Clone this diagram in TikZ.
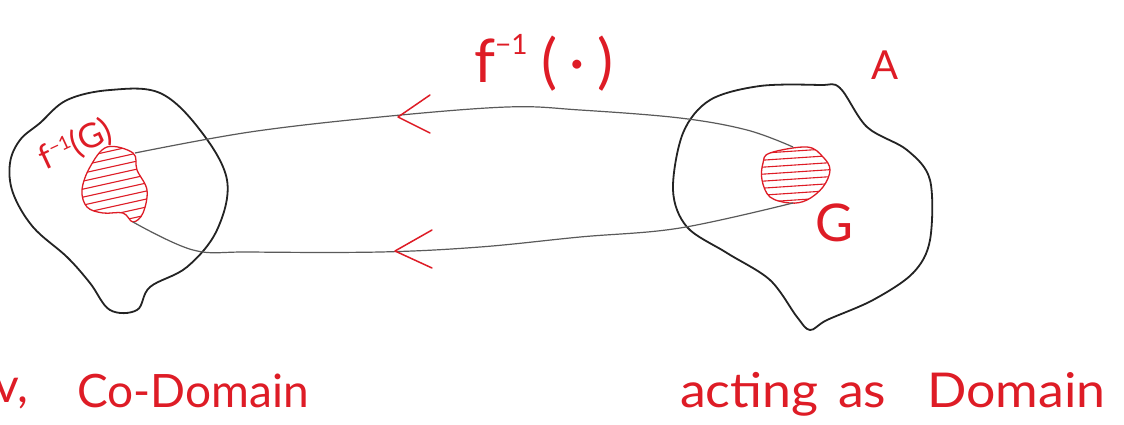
\documentclass[tikz,border=0pt]{standalone}
\usepackage{fontspec}
\setmainfont{Lato}
\definecolor{ink}{RGB}{222,28,38}
\definecolor{pencil}{RGB}{35,35,35}
\definecolor{thread}{RGB}{90,90,90}
\tikzset{
  blob/.style={draw=pencil, line width=1.8pt, line join=round},
  hatchline/.style={draw=ink, line width=1.1pt},
  rim/.style={draw=ink, line width=1.3pt},
  wire/.style={draw=thread, line width=1.2pt},
  chevron/.style={draw=ink, line width=1.5pt, line cap=round, line join=round},
  lbl/.style={text=ink, inner sep=0pt}
}
\begin{document}
\begin{tikzpicture}[x=1pt,y=-1pt]
\useasboundingbox (0,0) rectangle (1124,424);
\fill[white] (0,0) rectangle (1124,424);

% left blob (co-domain)
\draw[blob] plot[smooth cycle, tension=0.6] coordinates {
 (40,123) (67,100) (110,90) (160,93) (200,130) (227,180) (217,230)
 (187,267) (150,287) (137,310) (110,310) (90,283) (67,257) (33,227)
 (13,193) (10,163) (20,140)};
% right blob (domain A)
\draw[blob] plot[smooth cycle, tension=0.55] coordinates {
 (820,85) (840,88) (867,127) (907,150) (930,180) (930,240) (913,273)
 (873,300) (827,320) (810,330) (797,317) (770,280) (727,253) (687,227)
 (673,190) (683,133) (710,100) (760,86)};

% left hatched region f^{-1}(G)
\begin{scope}
 \clip plot[smooth cycle, tension=0.6] coordinates {
  (107,147) (133,153) (137,170) (147,190) (143,213) (133,222) (123,213)
  (103,213) (87,207) (82,190) (90,167)};
 \foreach \k in {0,...,10} {
  \draw[hatchline] (70,{160+\k*8}) -- (160,{140+\k*8});
 }
\end{scope}
\draw[rim] plot[smooth cycle, tension=0.6] coordinates {
  (107,147) (133,153) (137,170) (147,190) (143,213) (133,222) (123,213)
  (103,213) (87,207) (82,190) (90,167)};

% right hatched region G
\begin{scope}
 \clip plot[smooth cycle, tension=0.6] coordinates {
  (770,153) (807,147) (823,157) (830,170) (823,187) (807,200) (790,203)
  (770,197) (762,180) (763,163)};
 \foreach \k in {0,...,8} {
  \draw[hatchline] (750,{154+\k*7}) -- (840,{148+\k*7});
 }
\end{scope}
\draw[rim] plot[smooth cycle, tension=0.6] coordinates {
  (770,153) (807,147) (823,157) (830,170) (823,187) (807,200) (790,203)
  (770,197) (762,180) (763,163)};

% endpoints of the connecting lines
\coordinate (ltop) at (135,153);
\coordinate (lbot) at (133,222);
\coordinate (rtop) at (793,147);
\coordinate (rbot) at (793,203);

\draw[wire] plot[smooth, tension=0.6] coordinates {
 (ltop) (250,132) (380,117) (507,107) (580,110) (680,118) (747,130) (rtop)};
\draw[wire] plot[smooth, tension=0.6] coordinates {
 (lbot) (193,250) (250,252) (380,252) (480,247) (580,237) (680,228) (rbot)};

% red arrowheads
\coordinate (tip1) at (398,117);
\coordinate (tip2) at (395,251);
\draw[chevron] (430,95) -- (tip1) -- (430,133);
\draw[chevron] (432,230) -- (tip2) -- (432,268);

% labels
\node[lbl, anchor=base west, font=\fontsize{60}{64}\selectfont] (finv) at (474,82)
  {f\raisebox{28pt}{\fontsize{28}{30}\selectfont −1}\hspace{14pt}(\hspace{12pt}·\hspace{12pt})};
\node[lbl, font=\fontsize{40}{44}\selectfont] (Alab) at (885,65) {A};
\node[lbl, font=\fontsize{52}{56}\selectfont] (Glab) at (834,223) {G};
\node[lbl, font=\fontsize{34}{36}\selectfont, rotate=25] (fG) at (76,145)
  {f\raisebox{11pt}{\fontsize{19}{21}\selectfont −1}(G)};
\node[lbl, anchor=base west, font=\fontsize{46}{50}\selectfont] (cod) at (77,407) {Co-Domain};
\node[lbl, anchor=base west, font=\fontsize{48}{52}\selectfont, xscale=1.08] (dom) at (680,407)
  {acting\hspace{18pt}as\hspace{38pt}Domain};
\node[lbl, anchor=base west, font=\fontsize{48}{52}\selectfont] (frag) at (-6,402) {v,};
\end{tikzpicture}
\end{document}
